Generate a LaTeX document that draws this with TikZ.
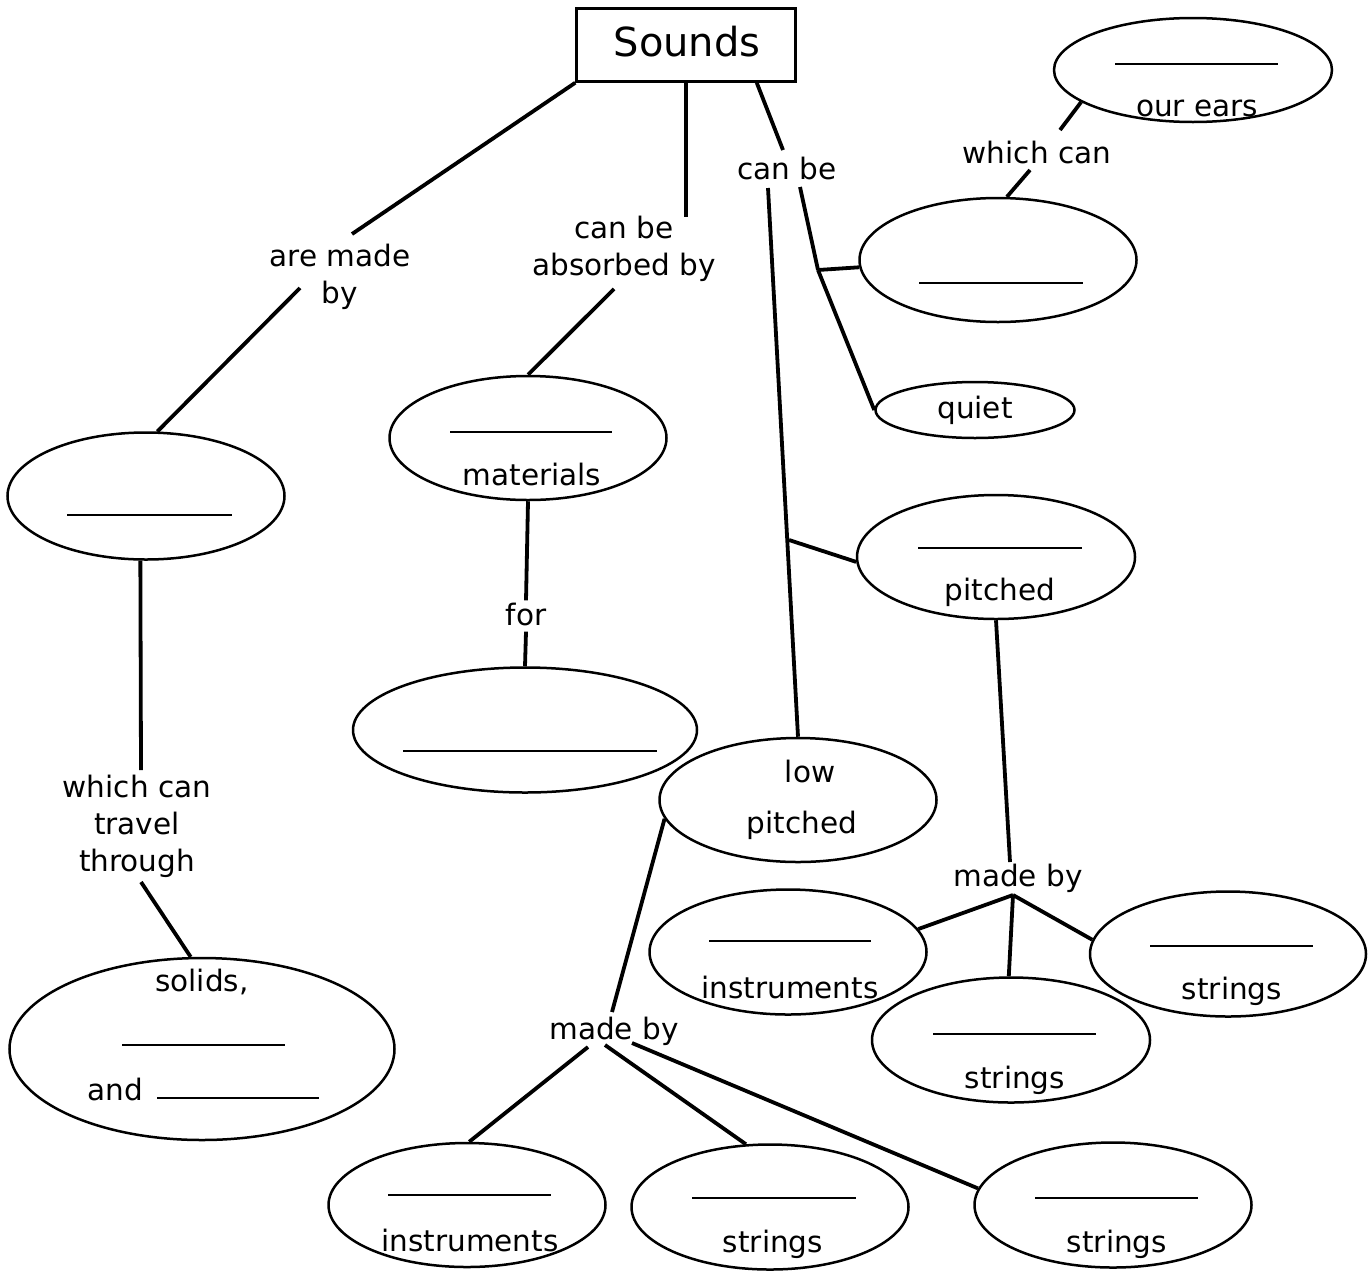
\documentclass[tikz,border=0pt]{standalone}
\usepackage{fontspec}
\setmainfont{DejaVu Sans}
\usetikzlibrary{shapes.geometric}

\begin{document}
\begin{tikzpicture}[
    x=1pt, y=-1pt,
    every node/.style={font=\fontsize{29.5}{37}\selectfont},
    title node/.style={rectangle, draw=black, line width=2.5pt, minimum width=219pt, minimum height=73pt, font=\fontsize{40}{48}\selectfont},
    oval/.style={ellipse, draw=black, line width=2.5pt, inner sep=0pt, minimum width=277pt, minimum height=124pt},
    link text/.style={align=center, inner sep=4pt},
    link line/.style={line width=3.8pt},
    blank line/.style={line width=2pt}
]
    \useasboundingbox (0,0) rectangle (1372,1277);

    % Nodes
    \node[title node] (sounds) at (686,45) {};
    \node (soundsT) at (687,42) {\fontsize{40}{48}\selectfont Sounds};

    \node[oval, minimum width=278pt, minimum height=104pt] (ourears) at (1193,70) {};
    \node[oval] (hearing) at (998,260) {};
    \node[oval, minimum width=199pt, minimum height=56pt] (quiet) at (975,410) {quiet};
    \node[oval, minimum width=278pt] (high) at (996,557) {};
    \node[oval] (low) at (798,800) {};
    \node[oval, minimum height=127pt] (source) at (146,496) {};
    \node[oval] (materials) at (528,438) {};
    \node[oval, minimum width=344pt, minimum height=125pt] (purpose) at (525,730) {};
    \node[oval, minimum width=385pt, minimum height=182pt] (media) at (202,1049) {};
    \node[oval, minimum height=125pt] (instrA) at (788,952) {};
    \node[oval, minimum width=278pt, minimum height=125pt] (stringA) at (1011,1040) {};
    \node[oval, minimum width=276pt, minimum height=125pt] (stringB) at (1228,954) {};
    \node[oval] (instrB) at (467,1205) {};
    \node[oval, minimum height=125pt] (stringC) at (770,1207) {};
    \node[oval, minimum height=125pt] (stringD) at (1113,1205) {};

    % Texts in the ovals
    \node (ourearsT) at (1197,108) {our ears};
    \node (materialsT) at (532,474) {materials};
    \node (highT) at (1000,592) {pitched};
    \node (lowT) at (810,771) {low};
    \node (lowT2) at (802,825) {pitched};
    \node (mediaT) at (202,982) {solids,};
    \node (mediaT2) at (115,1089) {and};
    \node (instrAT) at (790,987) {instruments};
    \node (stringAT) at (1015,1080) {strings};
    \node (stringBT) at (1232,991) {strings};
    \node (instrBT) at (470,1240) {instruments};
    \node (stringCT) at (773,1244) {strings};
    \node (stringDT) at (1117,1244) {strings};

    % Blanks to fill in
    \foreach \xa/\ya/\xb in {1115/64/1278, 919/283/1083, 918/548/1082, 67/515/232,
        450/432/612, 403/751/657, 122/1045/285, 157/1098/319, 709/941/871,
        933/1034/1096, 1150/946/1313, 388/1195/551, 692/1198/856, 1035/1198/1198}
        \draw[blank line] (\xa,\ya) -- (\xb,\ya);

    % Link texts
    \node[link text] (aremade) at (340,277) {are made\\by};
    \node[link text] (absorbed) at (624,249) {can be\\absorbed by};
    \node[link text] (canbe) at (787,168) {can be};
    \node[link text] (whichcan) at (1037,152) {which can};
    \node[link text] (for) at (526,614) {for};
    \node[link text] (travel) at (137,826) {which can\\travel\\through};
    \node[link text] (madebyA) at (614,1031) {made by};
    \node[link text] (madebyB) at (1018,878) {made by};

    \coordinate (forkA) at (818,270);
    \coordinate (forkB) at (789,540);
    \coordinate (forkC) at ([shift={(-5,17)}]madebyB.center);

    % Edges
    \draw[link line] (sounds.south west) -- ([shift={(12,-43)}]aremade.center);
    \draw[link line] ([shift={(-40,11)}]aremade.center) -- (source.80);
    \draw[link line] (sounds.south) -- ([shift={(62,-32)}]absorbed.center);
    \draw[link line] ([shift={(-10,40)}]absorbed.center) -- (materials.north);
    \draw[link line] ([xshift=-40pt]sounds.south east) -- ([shift={(-4,-18)}]canbe.center);
    \draw[link line] ([shift={(-19,20)}]canbe.center) -- (low.north);
    \draw[link line] ([shift={(13,19)}]canbe.center) -- (forkA);
    \draw[link line] (forkA) -- (hearing.183);
    \draw[link line] (forkA) -- (quiet.west);
    \draw[link line] (forkB) -- (high.182);
    \draw[link line] (hearing.82) -- ([shift={(-7,18)}]whichcan.center);
    \draw[link line] ([shift={(23,-22)}]whichcan.center) -- (ourears.196);
    \draw[link line] (materials.south) -- ([yshift=-2pt]for.north);
    \draw[link line] ([yshift=-2pt]for.south) -- (purpose.north);
    \draw[link line] (source.265) -- ([shift={(4,-56)}]travel.center);
    \draw[link line] ([shift={(4,56)}]travel.center) -- (media.97);
    \draw[link line] (low.188) -- ([shift={(-2,-19)}]madebyA.center);
    \draw[link line] ([shift={(-26,16)}]madebyA.center) -- (instrB.88);
    \draw[link line] ([shift={(-9,14)}]madebyA.center) -- (stringC.111);
    \draw[link line] ([shift={(18,12)}]madebyA.center) -- (stringD.173);
    \draw[link line] (high.south) -- ([shift={(-8,-16)}]madebyB.center);
    \draw[link line] (forkC) -- (instrA.10);
    \draw[link line] (forkC) -- (stringA.92);
    \draw[link line] (forkC) -- (stringB.174);

\end{tikzpicture}
\end{document}
